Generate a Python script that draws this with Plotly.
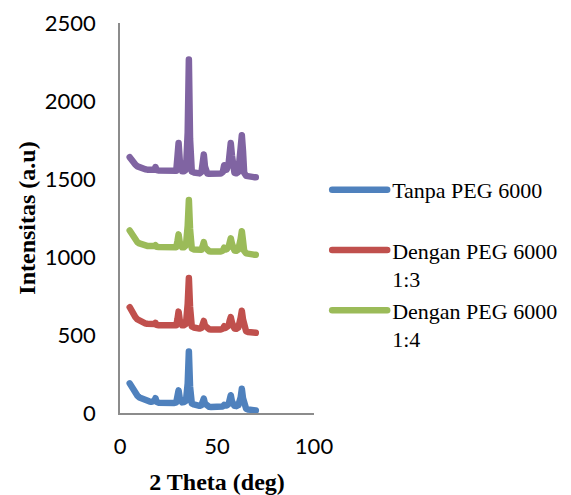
import plotly.graph_objects as go

# 2 theta (deg)
two_theta = [5, 6, 7, 8, 9, 10, 11, 12, 13, 14, 15, 16, 17, 17.8, 18.3, 18.8,
             20, 21, 22, 23, 24, 25, 26, 27, 28, 29, 29.6, 30.2, 30.8, 32, 33, 34,
             34.9, 35.5, 36.1, 37, 38, 39, 40, 41, 42, 42.6, 43.2, 43.8, 45, 46,
             47, 48, 49, 50, 51, 52, 53, 53.7, 54.4, 55, 56, 56.5, 57.1, 57.7,
             58.5, 59, 60, 61, 62.2, 62.8, 63.4, 64, 65, 66, 67, 68, 69, 70]

tanpa_peg = [190, 165, 142, 124, 110, 100, 93, 87, 82, 78, 75, 72, 70, 78, 95, 72,
             66, 65, 64, 64, 64, 63, 63, 63, 64, 68, 100, 145, 95, 68, 70, 78,
             190, 395, 170, 62, 55, 50, 48, 46, 50, 65, 92, 60, 44, 40,
             38, 37, 36, 36, 37, 39, 42, 52, 46, 48, 58, 80, 114, 75,
             52, 46, 44, 50, 100, 155, 95, 45, 28, 23, 20, 18, 17, 16]

peg_13 = [678, 652, 630, 613, 600, 591, 584, 579, 575, 572, 570, 568, 566, 570, 578, 565,
          562, 561, 560, 560, 559, 558, 557, 557, 558, 562, 600, 650, 595, 562, 563, 572,
          700, 865, 680, 555, 548, 544, 542, 541, 545, 565, 590, 560, 540, 537,
          535, 534, 533, 533, 534, 536, 540, 556, 546, 548, 560, 590, 615, 580,
          548, 542, 540, 548, 610, 655, 600, 540, 524, 519, 517, 516, 515, 514]

peg_14 = [1170, 1146, 1124, 1107, 1095, 1087, 1081, 1077, 1074, 1071, 1070, 1068, 1067, 1070, 1076, 1066,
          1064, 1063, 1062, 1061, 1060, 1059, 1058, 1058, 1059, 1063, 1100, 1145, 1095, 1062, 1063, 1075,
          1200, 1365, 1180, 1055, 1048, 1045, 1043, 1042, 1046, 1068, 1095, 1062, 1040, 1037,
          1035, 1034, 1033, 1033, 1034, 1036, 1040, 1060, 1048, 1050, 1065, 1095, 1120, 1085,
          1048, 1042, 1040, 1048, 1115, 1165, 1105, 1040, 1023, 1019, 1017, 1016, 1015, 1014]

peg_4th = [1640, 1620, 1604, 1591, 1581, 1574, 1569, 1565, 1562, 1560, 1558, 1557, 1556, 1560, 1577, 1557,
           1555, 1554, 1553, 1553, 1552, 1551, 1550, 1550, 1550, 1553, 1640, 1731, 1620, 1550, 1550, 1560,
           1800, 2266, 1760, 1548, 1542, 1539, 1537, 1536, 1545, 1600, 1657, 1580, 1535, 1533,
           1532, 1531, 1530, 1530, 1531, 1535, 1545, 1588, 1560, 1560, 1600, 1680, 1731, 1650,
           1550, 1540, 1537, 1545, 1700, 1780, 1680, 1540, 1520, 1516, 1514, 1513, 1512, 1512]

x_ticks = [0, 50, 100]
y_ticks = [0, 500, 1000, 1500, 2000, 2500]

series = [
    ("Tanpa PEG 6000<br>&nbsp;", tanpa_peg, "#4F81BD", True),
    ("Dengan PEG 6000<br>1:3", peg_13, "#C0504D", True),
    ("Dengan PEG 6000<br>1:4", peg_14, "#9BBB59", True),
    ("Dengan PEG 6000", peg_4th, "#8064A2", False),
]

fig = go.Figure()
for name, ys, color, show in series:
    assert len(ys) == len(two_theta)
    fig.add_trace(go.Scatter(x=two_theta, y=ys, mode="lines", name=name,
                             showlegend=show,
                             line=dict(color=color, width=6.5)))

axis_font = dict(family="Lato, Carlito, sans-serif", size=22, color="#000000")
title_font = dict(family="Liberation Serif, Times New Roman, serif", size=24, color="#000000")

fig.update_layout(
    width=571, height=495,
    margin=dict(l=120, r=257, t=23, b=82, autoexpand=False),
    paper_bgcolor="white", plot_bgcolor="white",
    showlegend=True,
    legend=dict(
        xref="container", yref="container",
        x=0.573, y=1 - 169 / 495, xanchor="left", yanchor="top",
        font=dict(family="Liberation Serif, Times New Roman, serif", size=22, color="#000000"),
        valign="top", itemwidth=55, bgcolor="rgba(0,0,0,0)", tracegroupgap=0,
    ),
    xaxis=dict(
        range=[0, 100], tickvals=x_ticks, ticktext=[str(v) for v in x_ticks],
        showgrid=False, zeroline=False, showline=True, linecolor="#8c8c8c", linewidth=1.5,
        ticks="", tickfont=axis_font, ticklabelstandoff=13, automargin=False,
        title=dict(text="<b>2 Theta (deg)</b>", font=title_font, standoff=37),
    ),
    yaxis=dict(
        range=[0, 2500], tickvals=y_ticks, ticktext=[str(v) for v in y_ticks],
        showgrid=False, zeroline=False, showline=True, linecolor="#8c8c8c", linewidth=1.5,
        ticks="", tickfont=axis_font, ticklabelstandoff=18, automargin=False,
        title=dict(text="<b>Intensitas (a.u)</b>", font=title_font, standoff=2),
    ),
)

post = (
    "document.body.style.margin='0';"
    "document.querySelectorAll('path.js-line').forEach(function(p){"
    "p.style.strokeLinejoin='round';p.style.strokeLinecap='round';});"
)
fig.write_html("out.html", post_script=post, config={"displayModeBar": False})
